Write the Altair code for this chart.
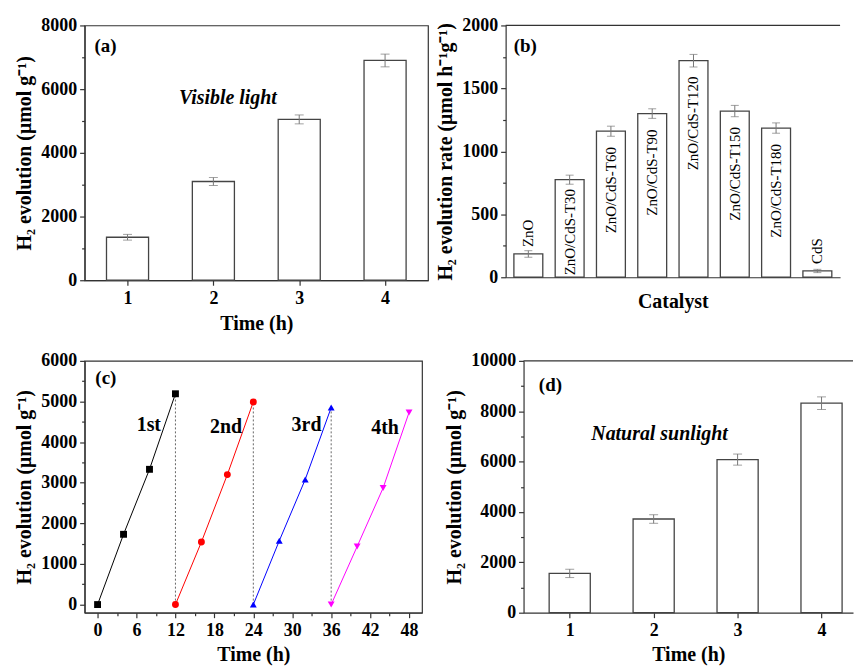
import altair as alt
import pandas as pd

FONT = "Liberation Serif"

# ---------------- data ----------------
# (a) visible light
vis_time = [1, 2, 3, 4]
vis_h2 = [1350, 3100, 5050, 6900]
vis_err = [90, 125, 140, 200]

# (b) catalysts
catalysts = ["ZnO", "ZnO/CdS-T30", "ZnO/CdS-T60", "ZnO/CdS-T90",
             "ZnO/CdS-T120", "ZnO/CdS-T150", "ZnO/CdS-T180", "CdS"]
rates = [185, 775, 1160, 1300, 1720, 1320, 1185, 50]
rate_err = [26, 36, 40, 38, 50, 45, 41, 13]

# (c) cycling runs
run_names = ["1st", "2nd", "3rd", "4th"]
run_times = [[0, 4, 8, 12], [12, 16, 20, 24], [24, 28, 32, 36], [36, 40, 44, 48]]
run_h2 = [[0, 1730, 3330, 5190], [0, 1540, 3200, 4990],
          [0, 1570, 3080, 4850], [0, 1430, 2870, 4730]]
run_colors = ["#000000", "#ff0000", "#0000ff", "#ff00ff"]
run_shapes = ["square", "circle", "triangle-up", "triangle-down"]
run_label_x = [7.9, 19.8, 32.2, 44.3]
run_label_y = [4430, 4380, 4420, 4340]

# (d) natural sunlight
sun_time = [1, 2, 3, 4]
sun_h2 = [1560, 3720, 6080, 8320]
sun_err = [165, 170, 220, 250]

Y_TITLE = "H₂ evolution (μmol g⁻¹)"
BAR_STROKE = "#444444"
ERR_COLOR = "#777777"

AXIS_STYLE = dict(labelFont=FONT, titleFont=FONT, labelFontSize=18, titleFontSize=20,
                  labelFontWeight="bold", titleFontWeight="bold",
                  labelColor="black", titleColor="black",
                  domainColor="#333333", tickColor="#333333",
                  domainWidth=1.2, tickWidth=1.2, grid=False,
                  labelOverlap=False, labelFlush=False)


def y_axis(step, minor, title, top):
    return alt.Axis(
        values=list(range(0, top + 1, minor)),
        labelExpr=f"datum.value % {step} == 0 ? datum.label : ''",
        tickSize={"condition": {"test": f"datum.value % {step} != 0", "value": 3}, "value": 5},
        title=title, format="d", labelPadding=3, titlePadding=6,
        **AXIS_STYLE,
    )


def bar_panel(times, vals, errs, ymax, step, minor, xdom, width, height,
              letter, letter_xy, note, note_xy, framed, title_pad):
    df = pd.DataFrame({"t": times, "v": vals, "e": errs})
    base = alt.Chart(df).transform_calculate(
        x1="datum.t - 0.245", x2="datum.t + 0.245", zero="0",
        lo="datum.v - datum.e", hi="datum.v + datum.e")
    xs = alt.Scale(domain=xdom, nice=False, zero=False)
    ys = alt.Scale(domain=[0, ymax], nice=False)
    xax = alt.Axis(values=times, format="d", title="Time (h)", tickSize=5,
                   labelPadding=4, titlePadding=title_pad, **AXIS_STYLE)
    yax = y_axis(step, minor, Y_TITLE, ymax)

    def X(f):
        return alt.X(f, scale=xs, axis=xax)

    def Y(f):
        return alt.Y(f, scale=ys, axis=yax)

    bars = base.mark_bar(fill="white", stroke=BAR_STROKE, strokeWidth=1.3).encode(
        x=X("x1:Q"), x2="x2:Q", y=Y("v:Q"), y2="zero:Q")
    rules = base.mark_rule(color=ERR_COLOR, strokeWidth=1).encode(
        x=X("t:Q"), y=Y("lo:Q"), y2="hi:Q")
    cap_lo = base.mark_tick(orient="horizontal", size=9, thickness=1, color=ERR_COLOR).encode(
        x=X("t:Q"), y=Y("lo:Q"))
    cap_hi = base.mark_tick(orient="horizontal", size=9, thickness=1, color=ERR_COLOR).encode(
        x=X("t:Q"), y=Y("hi:Q"))
    ann = pd.DataFrame({"x": [letter_xy[0], note_xy[0]], "y": [letter_xy[1], note_xy[1]],
                        "s": [letter, note], "it": ["normal", "italic"]})
    lab = alt.Chart(ann).transform_filter("datum.it == 'normal'").mark_text(
        font=FONT, fontSize=19, fontWeight="bold", color="black").encode(
        x=X("x:Q"), y=Y("y:Q"), text="s:N")
    nt = alt.Chart(ann).transform_filter("datum.it == 'italic'").mark_text(
        font=FONT, fontSize=20, fontWeight="bold", fontStyle="italic", color="black").encode(
        x=X("x:Q"), y=Y("y:Q"), text="s:N")
    layers = [bars, rules, cap_lo, cap_hi, lab, nt]
    props = dict(width=width, height=height)
    if not framed:
        top = alt.Chart(pd.DataFrame({"k": [0]})).mark_rule(
            color="#333333", strokeWidth=1.2).encode(y=alt.value(0))
        layers.append(top)
        props["view"] = alt.ViewBackground(stroke="transparent")
    return alt.layer(*layers).properties(**props)


# ---------------- panel a ----------------
pa = bar_panel(vis_time, vis_h2, vis_err, 8000, 2000, 1000, [0.5, 4.5], 345, 256,
               "(a)", (0.744, 7340), "Visible light", (2.17, 5734), True, 6)

# ---------------- panel d ----------------
pd_ = bar_panel(sun_time, sun_h2, sun_err, 10000, 2000, 1000, [0.45, 4.375], 331, 253,
                "(d)", (0.77, 9050), "Natural sunlight", (2.07, 7100), False, 5)

# ---------------- panel b ----------------
dfb = pd.DataFrame({"cat": catalysts, "v": rates, "e": rate_err})
bb = alt.Chart(dfb).transform_calculate(lo="datum.v - datum.e", hi="datum.v + datum.e", zero="0")
xb_scale = alt.Scale(domain=catalysts, paddingInner=0.3, paddingOuter=0.2)
xb_axis = alt.Axis(labels=False, ticks=False, title="Catalyst", titlePadding=14, **AXIS_STYLE)
yb_scale = alt.Scale(domain=[0, 2000], nice=False)
yb_axis = y_axis(500, 250, "H₂ evolution rate (μmol h⁻¹g⁻¹)", 2000)


def XB(f="cat:N"):
    return alt.X(f, sort=catalysts, scale=xb_scale, axis=xb_axis)


def YB(f):
    return alt.Y(f, scale=yb_scale, axis=yb_axis)


b_bars = bb.mark_bar(fill="white", stroke=BAR_STROKE, strokeWidth=1.3).encode(x=XB(), y=YB("v:Q"))
b_rules = bb.mark_rule(color=ERR_COLOR).encode(x=XB(), y=YB("lo:Q"), y2="hi:Q")
b_cap_lo = bb.mark_tick(orient="horizontal", size=8, thickness=1, color=ERR_COLOR).encode(x=XB(), y=YB("lo:Q"))
b_cap_hi = bb.mark_tick(orient="horizontal", size=8, thickness=1, color=ERR_COLOR).encode(x=XB(), y=YB("hi:Q"))
# labels inside tall bars: hang from the bar top
b_in = bb.transform_filter("datum.v >= 1000").mark_text(
    font=FONT, fontSize=15, angle=270, align="right", baseline="middle", dx=-16, color="black"
).encode(x=XB(), y=YB("v:Q"), text="cat:N")
# label inside a shorter bar: rise from the bar base
b_mid = bb.transform_filter("datum.v >= 500 && datum.v < 1000").mark_text(
    font=FONT, fontSize=15, angle=270, align="left", baseline="middle", dx=2, color="black"
).encode(x=XB(), y=YB("zero:Q"), text="cat:N")
# labels above tiny bars
b_out = bb.transform_filter("datum.v < 500").mark_text(
    font=FONT, fontSize=15, angle=270, align="left", baseline="middle", dx=7, color="black"
).encode(x=XB(), y=YB("v:Q"), text="cat:N")
b_letter = alt.Chart(pd.DataFrame({"cat": ["ZnO"], "y": [1834], "s": ["(b)"]})).mark_text(
    font=FONT, fontSize=19, fontWeight="bold", dx=-3, color="black").encode(
    x=XB(), y=YB("y:Q"), text="s:N")
b_top = alt.Chart(pd.DataFrame({"k": [0]})).mark_rule(color="#333333", strokeWidth=1.2).encode(y=alt.value(0))
pb = alt.layer(b_bars, b_rules, b_cap_lo, b_cap_hi, b_in, b_mid, b_out, b_letter, b_top).properties(
    width=336, height=253, view=alt.ViewBackground(stroke="transparent"))

# ---------------- panel c ----------------
rows = []
for name, ts, vs in zip(run_names, run_times, run_h2):
    for t, v in zip(ts, vs):
        rows.append({"run": name, "t": t, "v": v})
dfc = pd.DataFrame(rows)
xc_scale = alt.Scale(domain=[-2, 50], nice=False, zero=False)
yc_scale = alt.Scale(domain=[-200, 6000], nice=False, zero=False)
xc_axis = alt.Axis(values=list(range(0, 49, 3)),
                   labelExpr="datum.value % 6 == 0 ? datum.label : ''",
                   tickSize={"condition": {"test": "datum.value % 6 != 0", "value": 3}, "value": 5},
                   title="Time (h)", format="d", labelPadding=4, titlePadding=5, **AXIS_STYLE)
yc_axis = y_axis(1000, 500, Y_TITLE, 6000)


def XC(f):
    return alt.X(f, scale=xc_scale, axis=xc_axis)


def YC(f):
    return alt.Y(f, scale=yc_scale, axis=yc_axis)


color_sc = alt.Scale(domain=run_names, range=run_colors)
shape_sc = alt.Scale(domain=run_names, range=run_shapes)

dash_df = pd.DataFrame({"t": [ts[-1] for ts in run_times[:3]], "top": [vs[-1] for vs in run_h2[:3]]})
c_dash = alt.Chart(dash_df).transform_calculate(zero="0").mark_rule(
    color="#666666", strokeDash=[2, 2], strokeWidth=1).encode(x=XC("t:Q"), y=YC("zero:Q"), y2="top:Q")
c_lines = alt.Chart(dfc).mark_line(strokeWidth=1).encode(
    x=XC("t:Q"), y=YC("v:Q"), color=alt.Color("run:N", scale=color_sc, legend=None), detail="run:N")
c_pts = alt.Chart(dfc).mark_point(filled=True, size=48, opacity=1).encode(
    x=XC("t:Q"), y=YC("v:Q"),
    color=alt.Color("run:N", scale=color_sc, legend=None),
    shape=alt.Shape("run:N", scale=shape_sc, legend=None))
lab_df = pd.DataFrame({"x": run_label_x, "y": run_label_y, "s": run_names})
c_labs = alt.Chart(lab_df).mark_text(font=FONT, fontSize=20, fontWeight="bold", color="black").encode(
    x=XC("x:Q"), y=YC("y:Q"), text="s:N")
c_letter = alt.Chart(pd.DataFrame({"x": [1.27], "y": [5580], "s": ["(c)"]})).mark_text(
    font=FONT, fontSize=19, fontWeight="bold", color="black").encode(x=XC("x:Q"), y=YC("y:Q"), text="s:N")
pc = alt.layer(c_dash, c_lines, c_pts, c_labs, c_letter).properties(width=339, height=253)

# ---------------- layout ----------------
row1 = alt.hconcat(pa, pb, spacing=6)
row2 = alt.hconcat(pc, pd_, spacing=21)
chart = alt.vconcat(row1, row2, spacing=17).properties(
    padding={"left": 14, "top": 14, "right": 0, "bottom": 0}
).configure_axis(
    labelFont=FONT, titleFont=FONT
).configure_view(stroke="#333333", strokeWidth=1.2
).configure_concat(spacing=10)

chart.save("out.html", embed_options={"renderer": "svg", "actions": False})
